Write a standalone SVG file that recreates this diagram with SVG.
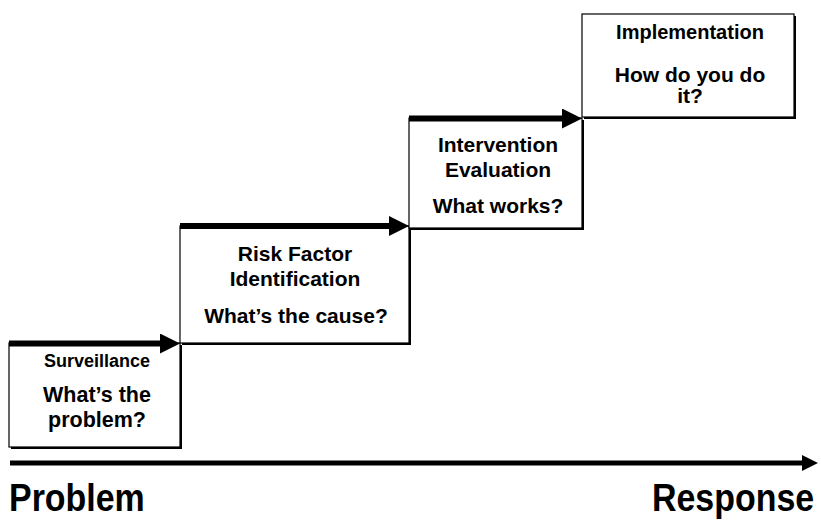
<svg xmlns="http://www.w3.org/2000/svg" width="821" height="520" viewBox="0 0 821 520">
  <defs>
    <style>
      .box { fill: #ffffff; stroke: #000000; stroke-width: 1.2; }
      .shadow { fill: #000000; }
      .t { font-family: "Liberation Sans", Arial, sans-serif; font-weight: bold; fill: #000000; text-anchor: middle; }
      .big { font-family: "Liberation Sans", Arial, sans-serif; font-weight: bold; fill: #000000; font-size: 39px; }
      .step { stroke: #000000; stroke-width: 6; fill: none; }
      .axis { stroke: #000000; stroke-width: 5; fill: none; }
    </style>
    <marker id="head" markerUnits="userSpaceOnUse" viewBox="0 0 20 20" refX="0" refY="10" markerWidth="20" markerHeight="20" orient="auto">
      <path d="M0,0 L20,10 L0,20 Z" fill="#000000"/>
    </marker>
    <marker id="axhead" markerUnits="userSpaceOnUse" viewBox="0 0 16 16" refX="0" refY="8" markerWidth="16" markerHeight="16" orient="auto">
      <path d="M0,0 L16,8 L0,16 Z" fill="#000000"/>
    </marker>
  </defs>

  <g id="surveillance">
    <rect class="shadow" x="11" y="345" width="171" height="104"/>
    <rect class="box" x="9" y="343" width="171" height="104"/>
    <text class="t" x="97" y="367" font-size="18">Surveillance</text>
    <text class="t" x="97" y="402" font-size="21.5">What’s the</text>
    <text class="t" x="97" y="427" font-size="21.5">problem?</text>
  </g>

  <g id="risk-factor">
    <rect class="shadow" x="182" y="228" width="229" height="117"/>
    <rect class="box" x="180" y="226" width="229" height="117"/>
    <text class="t" x="295" y="261" font-size="21">Risk Factor</text>
    <text class="t" x="295" y="286" font-size="21">Identification</text>
    <text class="t" x="296" y="323" font-size="21">What’s the cause?</text>
  </g>

  <g id="intervention">
    <rect class="shadow" x="411" y="120" width="173" height="110"/>
    <rect class="box" x="409" y="118" width="173" height="110"/>
    <text class="t" x="498" y="152" font-size="21">Intervention</text>
    <text class="t" x="498" y="177" font-size="21">Evaluation</text>
    <text class="t" x="498" y="213" font-size="21">What works?</text>
  </g>

  <g id="implementation">
    <rect class="shadow" x="584" y="16" width="212" height="103"/>
    <rect class="box" x="582" y="14" width="212" height="103"/>
    <text class="t" x="690" y="39" font-size="20">Implementation</text>
    <text class="t" x="690" y="82" font-size="21">How do you do</text>
    <text class="t" x="690" y="103" font-size="21">it?</text>
  </g>

  <g id="connectors">
    <path class="step" d="M9,343.5 H160" marker-end="url(#head)"/>
    <path class="step" d="M180,226 H389" marker-end="url(#head)"/>
    <path class="step" d="M409,118.5 H562" marker-end="url(#head)"/>
    <path class="axis" d="M10,463 H802" marker-end="url(#axhead)"/>
  </g>

  <g id="labels">
    <text class="big" transform="translate(9,511) scale(0.87,1)">Problem</text>
    <text class="big" transform="translate(652,511) scale(0.87,1)">Response</text>
  </g>
</svg>
